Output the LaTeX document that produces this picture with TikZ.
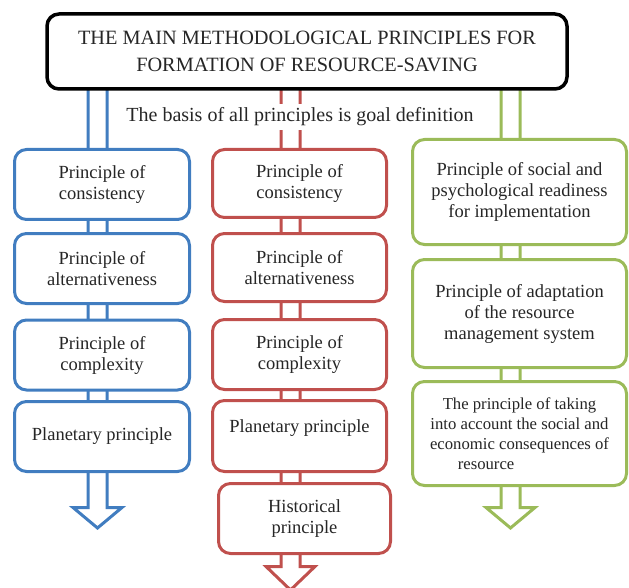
\documentclass[tikz,border=0pt]{standalone}
\usepackage{fontspec}
\setmainfont{Liberation Serif}
\usetikzlibrary{positioning}

\definecolor{pblue}{RGB}{65,125,192}
\definecolor{pred}{RGB}{192,80,77}
\definecolor{pgreen}{RGB}{155,187,89}

\tikzset{
  pbox/.style={draw, line width=3pt, rounded corners=12pt, fill=white,
    align=center, text=black!85, font=\fontsize{18.5}{21}\selectfont},
  parrow/.style={line width=3pt, fill=white},
}

% colour, x of shaft middle, y where the head starts, y of the tip
\newcommand{\blockarrow}[4]{%
  \draw[parrow, draw=#1] (#2-9.5,60) -- (#2-9.5,#3) -- (#2-24.5,#3) -- (#2,#4)
    -- (#2+24.5,#3) -- (#2+9.5,#3) -- (#2+9.5,60);}

\begin{document}
\begin{tikzpicture}[x=1pt, y=-1pt]
  \useasboundingbox (0,0) rectangle (629,588);

  \blockarrow{pblue}{97.5}{507.5}{528}
  \blockarrow{pred}{290.5}{566.5}{590}
  \blockarrow{pgreen}{510.5}{507.5}{528}

  \node[pbox, draw=black, line width=3.5pt, minimum width=520pt, minimum height=75pt,
    font=\fontsize{20.3}{27}\selectfont] (title) at (307,51.5)
    {THE MAIN METHODOLOGICAL PRINCIPLES FOR\\FORMATION OF RESOURCE-SAVING};
  \node[fill=white, inner sep=4pt, text=black!85, font=\fontsize{20}{21}\selectfont]
    (basis) at (300,117) {The basis of all principles is goal definition};

  \node[pbox, draw=pblue, minimum width=175pt, minimum height=70pt] (b1) at (102,184.5)
    {Principle of\\consistency};
  \node[pbox, draw=pblue, minimum width=175pt, minimum height=70pt] (b2) at (102,268.5)
    {Principle of\\alternativeness};
  \node[pbox, draw=pblue, minimum width=175pt, minimum height=70pt] (b3) at (102,355)
    {Principle of\\complexity};
  \node[pbox, draw=pblue, minimum width=175pt, minimum height=70pt] (b4) at (102,436.5)
    {Planetary principle};

  \node[pbox, draw=pred, minimum width=174pt, minimum height=68pt] (r1) at (299.5,183.5)
    {Principle of\\consistency};
  \node[pbox, draw=pred, minimum width=174pt, minimum height=68pt] (r2) at (299.5,267.5)
    {Principle of\\alternativeness};
  \node[pbox, draw=pred, minimum width=174pt, minimum height=70pt] (r3) at (299.5,354.5)
    {Principle of\\complexity};
  \node[pbox, draw=pred, minimum width=174pt, minimum height=71pt] (r4) at (299.5,436)
    {Planetary principle\\[-2pt]\phantom{P}};
  \node[pbox, draw=pred, minimum width=172pt, minimum height=70pt] (r5) at (304.5,518.5)
    {Historical\\principle};

  \node[pbox, draw=pgreen, minimum width=214pt, minimum height=105pt] (g1) at (519.5,192)
    {Principle of social and\\psychological readiness\\for implementation};
  \node[pbox, draw=pgreen, minimum width=214pt, minimum height=108pt] (g2) at (519.5,313.5)
    {Principle of adaptation\\of the resource\\management system};
  \node[pbox, draw=pgreen, minimum width=214pt, minimum height=104pt,
    font=\fontsize{16.7}{20}\selectfont] (g3) at (519.5,433.5)
    {The principle of taking\\into account the social and\\economic consequences of\\resource\hspace*{4em}};
\end{tikzpicture}
\end{document}
